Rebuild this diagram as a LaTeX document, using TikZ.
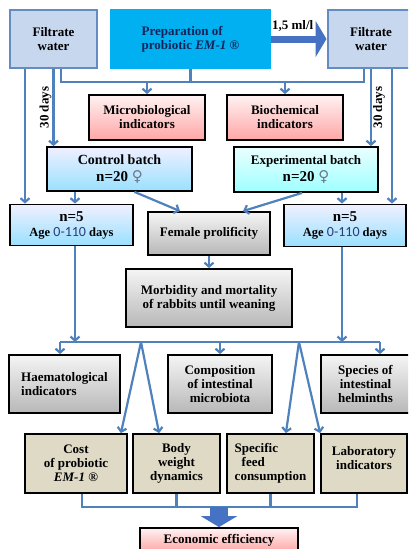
\documentclass[tikz,border=0pt]{standalone}
\usepackage{fontspec}
\setmainfont{Liberation Serif}
\newfontfamily\agefont{Carlito}
\newfontfamily\signfont{DejaVu Sans}
\usetikzlibrary{arrows.meta}
\definecolor{lnblue}{RGB}{79,129,189}
\definecolor{fatblue}{RGB}{70,114,196}
\definecolor{srcfill}{RGB}{198,215,238}
\definecolor{srcline}{RGB}{100,140,195}
\definecolor{prepblue}{RGB}{0,176,240}
\definecolor{prepnavy}{RGB}{22,34,88}
\definecolor{agenavy}{RGB}{40,60,120}
\definecolor{signgray}{RGB}{110,120,140}
\definecolor{beige}{RGB}{222,218,197}
\newcommand{\femsign}{{\signfont\mdseries\color{signgray}♀}}
\newcommand{\agerange}{{\agefont\mdseries\fontsize{14}{14}\selectfont\color{agenavy}0-110}}
\newcommand{\emone}{\textit{EM-1}~®}

\begin{document}
\begin{tikzpicture}[x=1pt,y=-1pt,
  box/.style={draw=black, line width=1.8pt, align=center, inner sep=2pt,
    font=\bfseries\fontsize{13}{14}\selectfont},
  srcbox/.style={box, draw=srcline, fill=srcfill, line width=2pt,
    minimum width=87, minimum height=58},
  pinkbox/.style={box, top color=red!5, bottom color=red!35!white},
  bluebox/.style={box, top color=blue!6, bottom color=blue!30!cyan!40!white},
  cyanbox/.style={box, top color=cyan!8, bottom color=cyan!38},
  graybox/.style={box, top color=white!96!black, bottom color=black!28},
  tanbox/.style={box, fill=beige},
  link/.style={draw=lnblue, line width=2.2pt},
  arr/.style={link, -{Straight Barb[length=4pt,width=9pt]}},
  fatarr/.style={draw=fatblue, -{Triangle[length=11pt,width=36pt]}},
  days/.style={font=\bfseries\fontsize{13}{14}\selectfont, inner sep=1pt},
]
\useasboundingbox (0,0) rectangle (408,549);
\clip (0,0) rectangle (408,549);

% Top row
\node[srcbox] (fl) at (53.5,39) {Filtrate\\water};
\node[box, draw=prepblue, fill=prepblue, text=prepnavy, align=left,
  minimum width=159, minimum height=58] (prep) at (190.5,39)
  {Preparation of\\probiotic \emone};
\node[srcbox] (fr) at (371,39) {Filtrate\\water};

% Indicators
\node[pinkbox, minimum width=116, minimum height=45] (micro) at (147,117.5) {Microbiological\\indicators};
\node[pinkbox, minimum width=116, minimum height=45] (bio) at (285,117.5) {Biochemical\\indicators};

% Batches
\node[bluebox, minimum width=145, minimum height=44] (ctrl) at (119.5,169)
  {\fontsize{14}{14}\selectfont Control batch\\[3pt]{\fontsize{15}{15}\selectfont n=20 \femsign}};
\node[cyanbox, minimum width=144, minimum height=45] (exp) at (306,169.5)
  {Experimental batch\\[3pt]{\fontsize{15}{15}\selectfont n=20 \femsign}};
\node[bluebox, minimum width=123, minimum height=41] (nl) at (71.5,225)
  {{\fontsize{15}{15}\selectfont n=5}\\[1pt]{\fontsize{12.5}{14}\selectfont Age \agerange{} days}};
\node[bluebox, minimum width=122, minimum height=42] (nr) at (345,225.5)
  {{\fontsize{15}{15}\selectfont n=5}\\[1pt]{\fontsize{12.5}{14}\selectfont Age \agerange{} days}};
\node[graybox, minimum width=122, minimum height=43] (fem) at (209,233.5) {Female prolificity};
\node[graybox, minimum width=166, minimum height=58] (morb) at (209,298)
  {Morbidity and mortality\\of rabbits until weaning};

% Studied parameters
\node[graybox, align=left, minimum width=111, minimum height=58] (haem) at (64.5,384)
  {Haematological\\indicators};
\node[graybox, minimum width=104, minimum height=58] (comp) at (220,384)
  {Composition\\of intestinal\\microbiota};
\node[graybox, minimum width=89, minimum height=58] (spec) at (365.5,384)
  {Species of\\intestinal\\helminths};
\node[tanbox, minimum width=102, minimum height=59] (cost) at (76,463.5)
  {Cost\\of probiotic\\\emone};
\node[tanbox, minimum width=87, minimum height=59] (body) at (176.5,463.5)
  {Body\\weight\\dynamics};
\node[tanbox, align=left, minimum width=87, minimum height=59] (feed) at (270.5,463.5)
  {Specific\\\hspace*{7pt}feed\\consumption};
\node[tanbox, minimum width=86, minimum height=59] (lab) at (364,463.5)
  {Laboratory\\indicators\\[-3pt]\mbox{}};
\node[pinkbox, minimum width=158, minimum height=24] (econ) at (219,540)
  {Economic efficiency};

% Top connectors
\draw[fatarr, line width=7pt] (prep.east) -- (fr.west)
  node[midway, above=3.5pt, inner sep=0pt, xshift=-6pt, font=\bfseries\fontsize{13}{14}\selectfont] {1,5 ml/l};
\coordinate (tl) at (61,82);
\coordinate (tr) at (364,82);
\coordinate (la) at (25,0);
\coordinate (rb) at (392,0);
\draw[link] (tl |- fl.south) -- (tl) -- (tr) -- (tr |- fr.south);
\draw[link] (prep.south) -- (prep.south |- tl);
\draw[arr] (micro.north |- tl) -- (micro.north);
\draw[arr] (bio.north |- tl) -- (bio.north);
\draw[arr] (la |- fl.south) -- (la |- nl.north);
\draw[arr] (rb |- fr.south) -- (rb |- nr.north);
\draw[arr] (fl.south) -- (fl.south |- ctrl.north) node[midway, rotate=90, above, days] {30 days};
\draw[arr] (fr.south) -- (fr.south |- exp.north) node[midway, rotate=90, below, days] {30 days};

% Batch connectors
\draw[arr] ([xshift=3.5pt]nl.north |- ctrl.south) -- ([xshift=3.5pt]nl.north);
\draw[arr] ([xshift=15pt]ctrl.south) -- ([xshift=-29pt]fem.north);
\draw[arr] ([xshift=-4pt]exp.south) -- ([xshift=34pt]fem.north);
\draw[arr] ([xshift=-3pt]nr.north |- exp.south) -- ([xshift=-3pt]nr.north);
\draw[arr] (fem.south) -- (morb.north);

% Middle bus
\coordinate (ml) at (60,342);
\coordinate (mr) at (380,342);
\coordinate (dl) at (141,342);
\coordinate (dr) at (299,342);
\draw[link] (ml) -- (mr);
\draw[arr] ([xshift=3.5pt]nl.south) -- ([xshift=3.5pt]nl.south |- ml);
\draw[arr] ([xshift=-3pt]nr.south) -- ([xshift=-3pt]nr.south |- ml);
\draw[arr] (ml) -- (ml |- haem.north);
\draw[arr] (comp.north |- ml) -- (comp.north);
\draw[arr] (mr) -- (mr |- spec.north);
\draw[arr] (dl) -- ([xshift=-7pt]cost.north east);
\draw[arr] (dl) -- ([xshift=27pt]body.north west);
\draw[arr] (dr) -- ([xshift=-29pt]feed.north east);
\draw[arr] (dr) -- (lab.north west);

% Bottom bus
\coordinate (bl) at (82,507);
\coordinate (br) at (357,507);
\draw[link] (bl |- cost.south) -- (bl) -- (br) -- (br |- lab.south);
\draw[link] (body.south) -- (body.south |- bl);
\draw[link] (feed.south) -- (feed.south |- bl);
\draw[fatarr, line width=18pt] (econ.north |- bl) -- (econ.north);
\end{tikzpicture}
\end{document}
